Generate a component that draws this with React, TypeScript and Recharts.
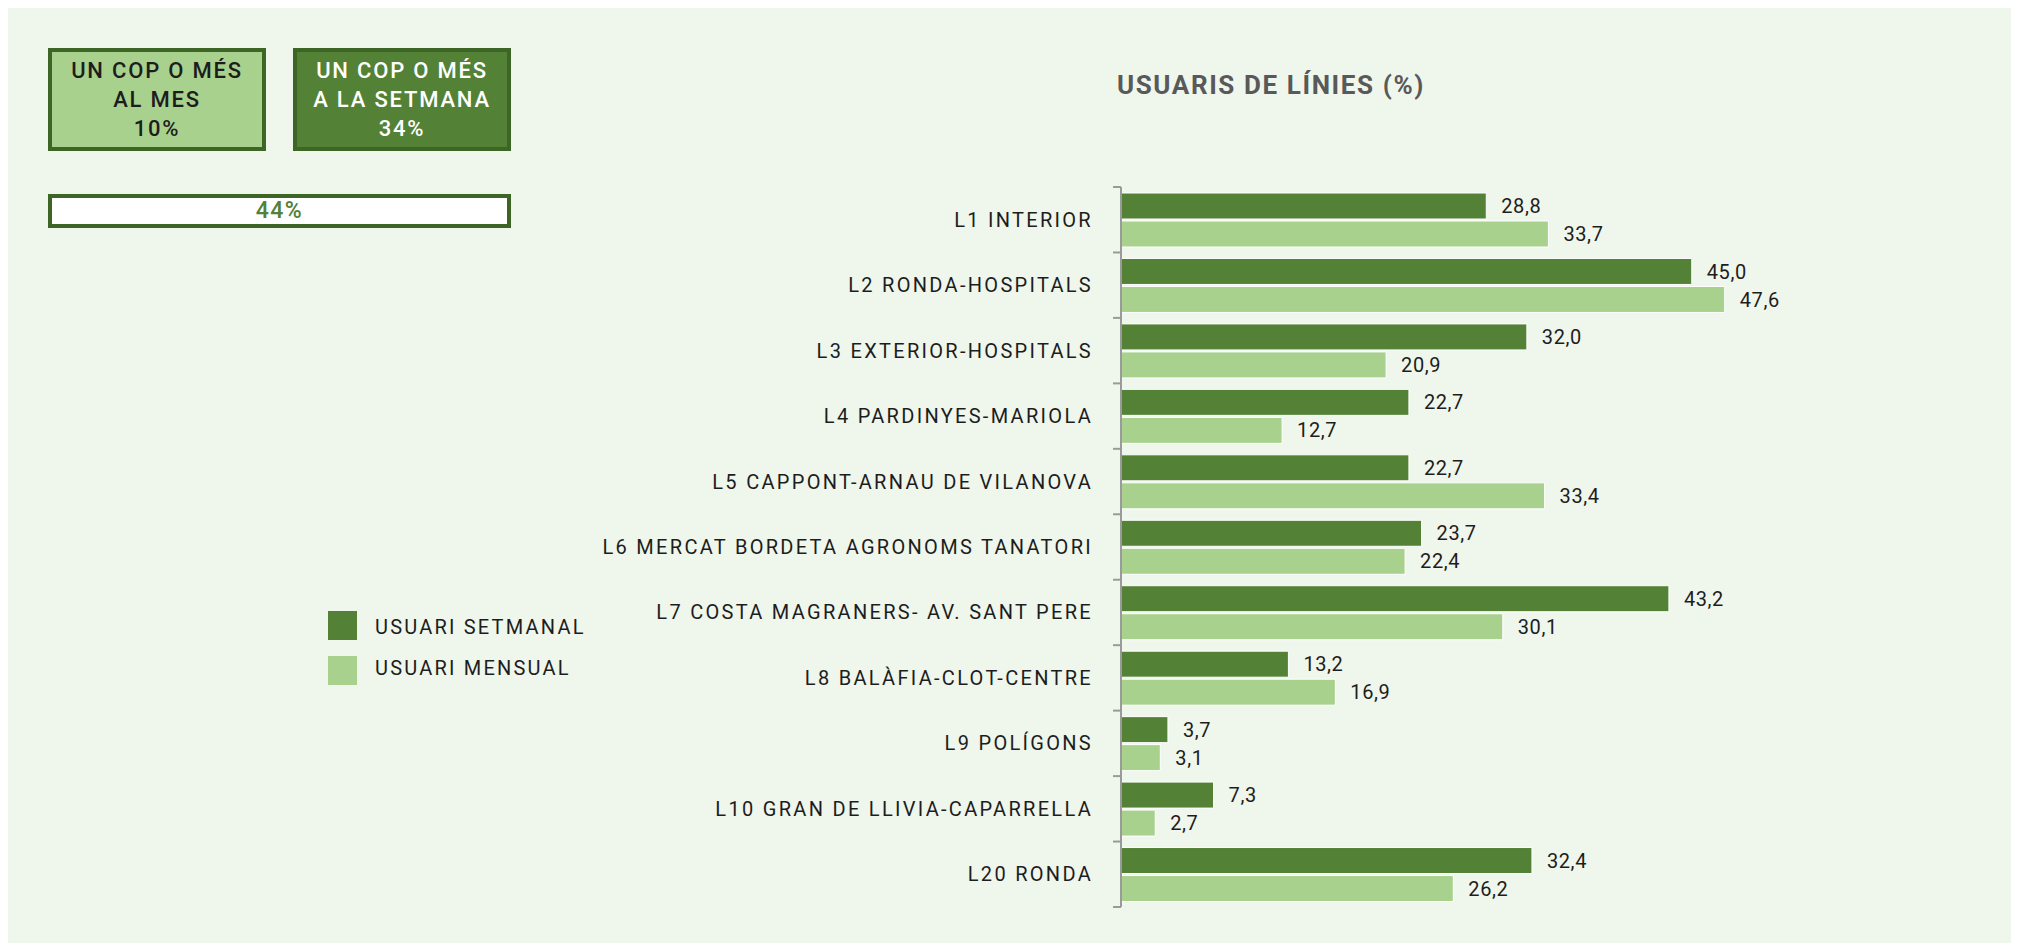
import React from "react";
import { BarChart, Bar, XAxis, YAxis, LabelList } from "recharts";

const categories = [
  "L1 INTERIOR",
  "L2 RONDA-HOSPITALS",
  "L3 EXTERIOR-HOSPITALS",
  "L4 PARDINYES-MARIOLA",
  "L5 CAPPONT-ARNAU DE VILANOVA",
  "L6 MERCAT BORDETA AGRONOMS TANATORI",
  "L7 COSTA MAGRANERS- AV. SANT PERE",
  "L8 BALÀFIA-CLOT-CENTRE",
  "L9 POLÍGONS",
  "L10 GRAN DE LLIVIA-CAPARRELLA",
  "L20 RONDA",
];
const setmanal = [28.8, 45.0, 32.0, 22.7, 22.7, 23.7, 43.2, 13.2, 3.7, 7.3, 32.4];
const mensual = [33.7, 47.6, 20.9, 12.7, 33.4, 22.4, 30.1, 16.9, 3.1, 2.7, 26.2];
const seriesNames = ["USUARI SETMANAL", "USUARI MENSUAL"];
const boxTexts = [
  ["UN COP O MÉS", "AL MES", "10%"],
  ["UN COP O MÉS", "A LA SETMANA", "34%"],
];
const totalText = "44%";
const title = "USUARIS DE LÍNIES (%)";

const DARK = "#538135";
const LIGHT = "#A9D18E";
const BG = "#EFF6EC";
const BORDER = "#3D6525";
const AXIS = "#9a9a9a";
const FONT = "Roboto, 'Noto Sans', sans-serif";

const data = categories.map((name, i) => ({ name, setmanal: setmanal[i], mensual: mensual[i] }));

const W = 2003;
const H = 935;
const M = { top: 179, right: 129, bottom: 36, left: 0 };
const Y_W = 1113;
const BAND = (H - M.top - M.bottom) / categories.length;

const fmt = (v: any) => Number(v).toFixed(1).replace(".", ",");

const CatTick = (props: any) => {
  const { x, y, payload, index } = props;
  const ax = x + 28;
  return (
    <g>
      <text
        x={x}
        y={y}
        dy={7}
        textAnchor="end"
        fill="#1d1d1d"
        fontFamily={FONT}
        fontSize={20}
        letterSpacing={2.3}
      >
        {payload.value}
      </text>
      <line x1={ax - 8} x2={ax} y1={y - BAND / 2} y2={y - BAND / 2} stroke={AXIS} strokeWidth={2} />
      {index === categories.length - 1 && (
        <line x1={ax - 8} x2={ax} y1={y + BAND / 2} y2={y + BAND / 2} stroke={AXIS} strokeWidth={2} />
      )}
    </g>
  );
};

const boxStyle = (left: number, dark: boolean): React.CSSProperties => ({
  position: "absolute",
  left,
  top: 40,
  width: 218,
  height: 103,
  boxSizing: "border-box",
  border: `4px solid ${BORDER}`,
  background: dark ? DARK : LIGHT,
  color: dark ? "#ffffff" : "#1d1d1d",
  fontFamily: FONT,
  fontWeight: 500,
  fontSize: 22,
  letterSpacing: 1.8,
  lineHeight: "29px",
  textAlign: "center",
  display: "flex",
  flexDirection: "column",
  justifyContent: "center",
});

export default function App() {
  return (
    <div style={{ position: "relative", width: W, height: H, background: BG, overflow: "hidden" }}>
      {boxTexts.map((lines, i) => (
        <div key={i} style={boxStyle(i === 0 ? 40 : 285, i === 1)}>
          {lines.map((l) => (
            <div key={l}>{l}</div>
          ))}
        </div>
      ))}
      <div
        style={{
          position: "absolute",
          left: 40,
          top: 186,
          width: 463,
          height: 34,
          boxSizing: "border-box",
          border: `4px solid ${BORDER}`,
          background: "#ffffff",
          color: DARK,
          fontFamily: FONT,
          fontWeight: 500,
          fontSize: 23,
          letterSpacing: 1.5,
          textAlign: "center",
          lineHeight: "26px",
        }}
      >
        {totalText}
      </div>
      <div
        style={{
          position: "absolute",
          left: 1109,
          top: 62,
          fontFamily: FONT,
          fontWeight: 700,
          fontSize: 26,
          color: "#595959",
          letterSpacing: 1.6,
          whiteSpace: "nowrap",
        }}
      >
        {title}
      </div>
      <div style={{ position: "absolute", left: 320, top: 595, fontFamily: FONT }}>
        {seriesNames.map((n, i) => (
          <div key={n} style={{ display: "flex", alignItems: "center", height: 45 }}>
            <div style={{ width: 29, height: 29, background: i === 0 ? DARK : LIGHT, marginRight: 18 }} />
            <span style={{ fontSize: 20, letterSpacing: 2.2, color: "#1d1d1d", marginTop: i === 0 ? 3 : -5 }}>{n}</span>
          </div>
        ))}
      </div>
      <div style={{ position: "absolute", left: 0, top: 0 }}>
        <BarChart
          width={W}
          height={H}
          data={data}
          layout="vertical"
          margin={M}
          barCategoryGap={6}
          barGap={2}
        >
          <XAxis type="number" domain={[0, 60]} hide />
          <YAxis
            type="category"
            dataKey="name"
            width={Y_W}
            tickLine={false}
            tickSize={6}
            tickMargin={22}
            axisLine={{ stroke: AXIS, strokeWidth: 2 }}
            tick={<CatTick />}
            interval={0}
          />
          <Bar dataKey="setmanal" name={seriesNames[0]} fill={DARK} stroke="#ffffff" strokeWidth={1} isAnimationActive={false}>
            <LabelList dataKey="setmanal" position="right" offset={15} formatter={fmt} fill="#1d1d1d" fontFamily={FONT} fontSize={20} letterSpacing={0.6} />
          </Bar>
          <Bar dataKey="mensual" name={seriesNames[1]} fill={LIGHT} stroke="#ffffff" strokeWidth={1} isAnimationActive={false}>
            <LabelList dataKey="mensual" position="right" offset={15} formatter={fmt} fill="#1d1d1d" fontFamily={FONT} fontSize={20} letterSpacing={0.6} />
          </Bar>
        </BarChart>
      </div>
    </div>
  );
}
